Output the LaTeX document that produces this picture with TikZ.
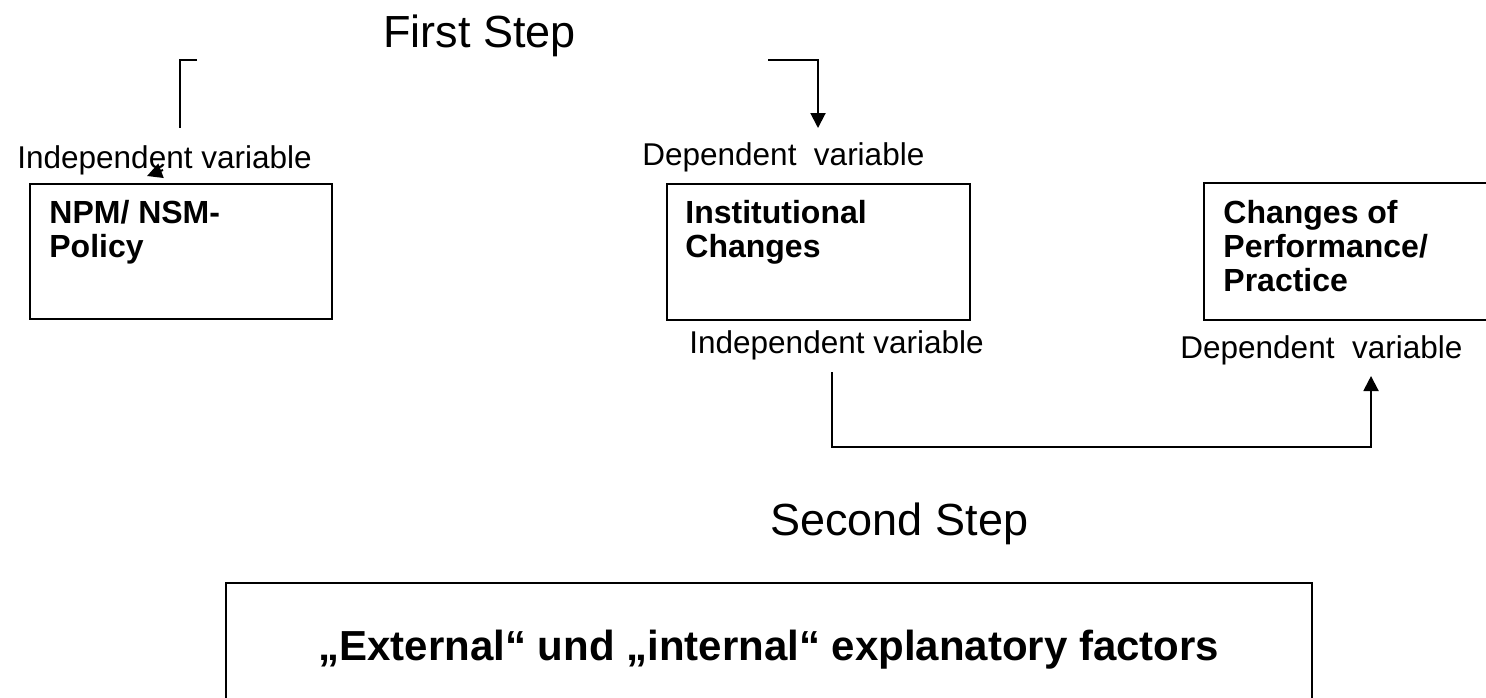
\documentclass[tikz,border=0pt]{standalone}
\usepackage{fontspec}
\setmainfont{Liberation Sans}
\usetikzlibrary{arrows.meta}
\tikzset{
  lbl/.style={inner sep=0pt, anchor=base west, font=\fontsize{15.75pt}{18pt}\selectfont},
  steplbl/.style={inner sep=0pt, anchor=base west, font=\fontsize{22.5pt}{26pt}\selectfont},
  boxtxt/.style={inner sep=0pt, anchor=base west, align=left, font=\bfseries\fontsize{16pt}{17pt}\selectfont},
  frame/.style={draw, line width=1pt, inner sep=0pt, anchor=north west},
  conn/.style={line width=1pt},
  arr/.style={line width=1pt, -{Triangle[width=7.5pt,length=7.5pt]}},
}
\begin{document}
\begin{tikzpicture}[x=0.5pt,y=-0.5pt]
\useasboundingbox (0,0) rectangle (1486,697);
\clip (0,0) rectangle (1486,697);
% titles
\node[steplbl] (first) at (383,47) {First Step};
\node[steplbl] (second) at (770,535) {Second Step};
% boxes
\node[frame, minimum width=151pt, minimum height=67.5pt] (npm) at (29,183) {};
\node[frame, minimum width=151.5pt, minimum height=68pt] (inst) at (666,183) {};
\node[frame, minimum width=160pt, minimum height=68.5pt] (perf) at (1203,182) {};
\node[frame, minimum width=543pt, minimum height=80pt] (ext) at (225,582) {};
% box texts (anchored at the baseline of the last line)
\node[boxtxt] (npmtxt) at (49,257) {NPM/ NSM-\\Policy};
\node[boxtxt] (insttxt) at (685,257) {Institutional\\Changes};
\node[boxtxt] (perftxt) at (1223,291) {Changes of\\Performance/\\Practice};
\node[inner sep=0pt, anchor=base west, font=\bfseries\fontsize{21pt}{24pt}\selectfont] (exttxt) at (318,660) {„External“ und „internal“ explanatory factors};
% variable labels
\node[lbl] (iv1) at (17,168) {Independent variable};
\node[lbl] (dv1) at (642,165) {Dependent\ \ variable};
\node[lbl] (iv2) at (689,353) {Independent variable};
\node[lbl] (dv2) at (1180,358) {Dependent\ \ variable};
% first step connectors
\coordinate (lb1) at (197,60);
\coordinate (lb2) at (180,60);
\coordinate (lb3) at (180,128);
\draw[conn] (lb1) -- (lb2) -- (lb3);
\coordinate (rb1) at (768,60);
\coordinate (rb2) at (818,60);
\coordinate (rb3) at (818,128);
\draw[arr] (rb1) -- (rb2) -- (rb3);
\coordinate (sa1) at (163,170);
\coordinate (sa2) at (147,176);
\draw[arr] (sa1) -- (sa2);
% second step connector
\coordinate (s1) at (832,372);
\coordinate (s2) at (832,447);
\coordinate (s3) at (1371,447);
\coordinate (s4) at (1371,376);
\draw[arr] (s1) -- (s2) -- (s3) -- (s4);
\end{tikzpicture}
\end{document}
